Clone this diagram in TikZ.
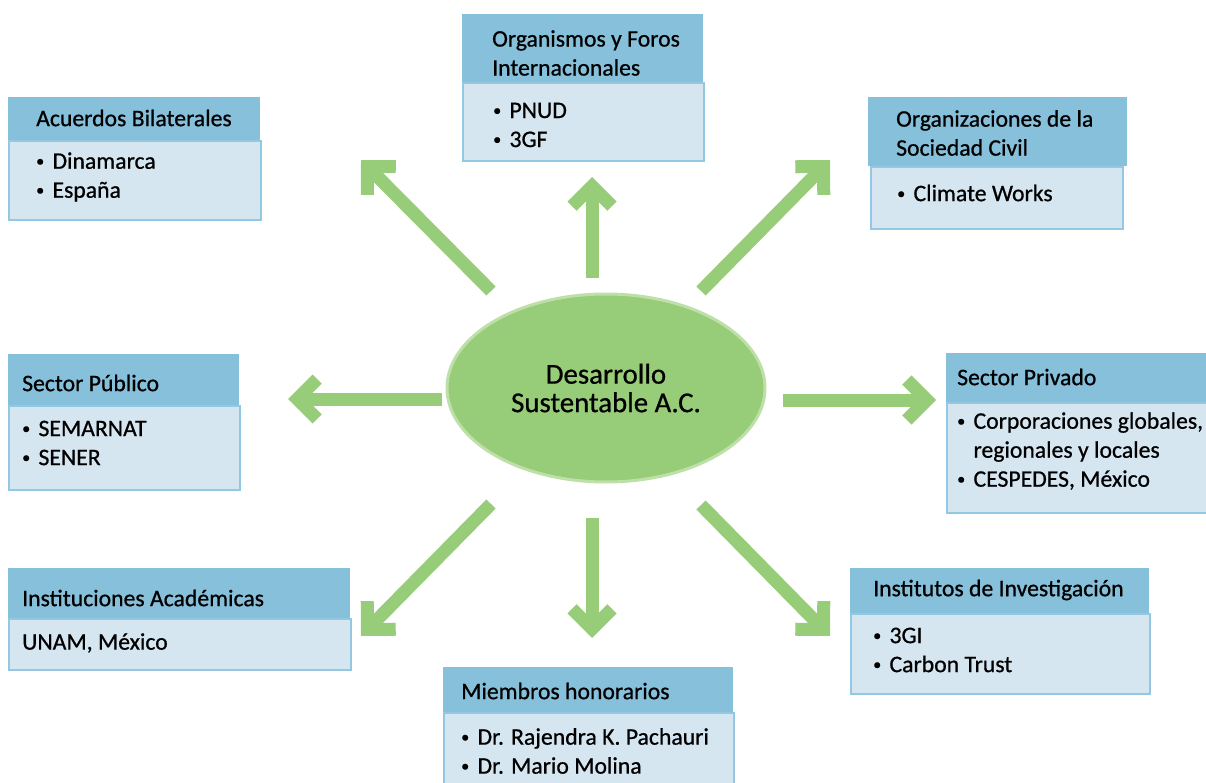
\documentclass[tikz,border=0pt]{standalone}
\usepackage{fontspec}
\usepackage{graphicx}
\setmainfont{Carlito}[FakeBold=0.6]
\usetikzlibrary{arrows.meta,shapes.geometric}
\definecolor{verde}{RGB}{151,204,120}
\definecolor{verdeclaro}{RGB}{190,224,168}
\definecolor{azul}{RGB}{134,192,218}
\definecolor{azulclaro}{RGB}{213,230,240}
\definecolor{borde}{RGB}{146,200,226}
\newfontfamily\gruesa{Carlito}[FakeBold=0.7]
\newcommand{\punto}{\raisebox{0.1em}{\scalebox{0.68}{\textbullet}}\hspace{0.35em}}
\tikzset{
  head/.style={fill=azul, anchor=north west, inner sep=0pt},
  body/.style={fill=azulclaro, draw=borde, line width=2pt, anchor=north west, inner sep=0pt},
  txt/.style={anchor=west, align=left, inner sep=0pt, font=\gruesa\fontsize{23.7}{29}\selectfont},
  flecha/.style={draw=verde, line width=13pt, -{Straight Barb[length=20pt, width=40pt, line width=13pt]}},
}

\begin{document}
\begin{tikzpicture}[x=1pt,y=-1pt]
        \useasboundingbox (0,0) rectangle (1206,783);

        % Central node
        \node[ellipse, fill=verde, draw=verdeclaro, line width=3pt, minimum width=318, minimum height=188,
              align=center, font=\gruesa\fontsize{28.8}{28.5}\selectfont] (DS) at (606,388) {Desarrollo\\Sustentable A.C.};

        % Acuerdos Bilaterales
        \node[head, minimum width=252, minimum height=43] (AB) at (8,97) {};
        \node[body, minimum width=252, minimum height=79] (ABc) at (AB.south west) {};
        \node[txt] (ABt) at (36,118) {Acuerdos Bilaterales};
        \node[txt] (ABl) at (36,177) {\punto Dinamarca\\\punto España};

        % Organismos y Foros Internacionales
        \node[head, minimum width=241, minimum height=68] (OF) at (462,14) {};
        \node[body, minimum width=241, minimum height=78] (OFc) at (OF.south west) {};
        \node[txt] (OFt) at (492,53) {Organismos y Foros\\Internacionales};
        \node[txt] (OFl) at (493,125) {\punto PNUD\\\punto 3GF};

        % Organizaciones de la Sociedad Civil
        \node[head, minimum width=259, minimum height=69] (OS) at (868,97) {};
        \node[body, minimum width=252, minimum height=62] (OSc) at (870,166) {};
        \node[txt] (OSt) at (896,133) {Organizaciones de la\\Sociedad Civil};
        \node[txt] (OSl) at (897,193) {\punto Climate Works};

        % Sector Publico
        \node[head, minimum width=231, minimum height=51] (SP) at (8,354) {};
        \node[body, minimum width=231, minimum height=84] (SPc) at (SP.south west) {};
        \node[txt] (SPt) at (22,383) {Sector Público};
        \node[txt] (SPl) at (22,443) {\punto SEMARNAT\\\punto SENER};

        % Sector Privado
        \node[head, minimum width=262, minimum height=49] (PR) at (946,353) {};
        \node[body, minimum width=262, minimum height=110] (PRc) at (PR.south west) {};
        \node[txt] (PRt) at (957,377) {Sector Privado};
        \node[txt] (PRl) at (957,451) {\punto Corporaciones globales,\\\hphantom{\punto}regionales y locales\\\punto CESPEDES, México};

        % Instituciones Academicas
        \node[head, minimum width=342, minimum height=50] (IA) at (8,568) {};
        \node[body, minimum width=342, minimum height=51] (IAc) at (IA.south west) {};
        \node[txt] (IAt) at (22,598) {Instituciones Académicas};
        \node[txt] (IAl) at (22,643) {UNAM, México};

        % Institutos de Investigacion
        \node[head, minimum width=299, minimum height=45] (II) at (850,568) {};
        \node[body, minimum width=299, minimum height=80] (IIc) at (II.south west) {};
        \node[txt] (IIt) at (873,590) {Institutos de Investigación};
        \node[txt] (IIl) at (873,650) {\punto 3GI\\\punto Carbon Trust};

        % Miembros honorarios
        \node[head, minimum width=290, minimum height=45] (MH) at (443,667) {};
        \node[body, minimum width=290, minimum height=90] (MHc) at (MH.south west) {};
        \node[txt] (MHt) at (461,691) {Miembros honorarios};
        \node[txt] (MHl) at (461,751) {\punto Dr. Rajendra K. Pachauri\\\punto Dr. Mario Molina};

        % Arrows
        \coordinate (N0) at (592,278);  \coordinate (N1) at (592,177);
        \coordinate (S0) at (592,518);  \coordinate (S1) at (592,638);
        \coordinate (W0) at (442,399);  \coordinate (W1) at (288,399);
        \coordinate (E0) at (783,400);  \coordinate (E1) at (936,400);
        \coordinate (NW0) at (491,291); \coordinate (NW1) at (361,160);
        \coordinate (NE0) at (701,291); \coordinate (NE1) at (830,160);
        \coordinate (SW0) at (491,504); \coordinate (SW1) at (361,636);
        \coordinate (SE0) at (701,505); \coordinate (SE1) at (830,636);
        \draw[flecha] (N0) -- (N1);
        \draw[flecha] (S0) -- (S1);
        \draw[flecha] (W0) -- (W1);
        \draw[flecha] (E0) -- (E1);
        \draw[flecha] (NW0) -- (NW1);
        \draw[flecha] (NE0) -- (NE1);
        \draw[flecha] (SW0) -- (SW1);
        \draw[flecha] (SE0) -- (SE1);
\end{tikzpicture}
\end{document}
